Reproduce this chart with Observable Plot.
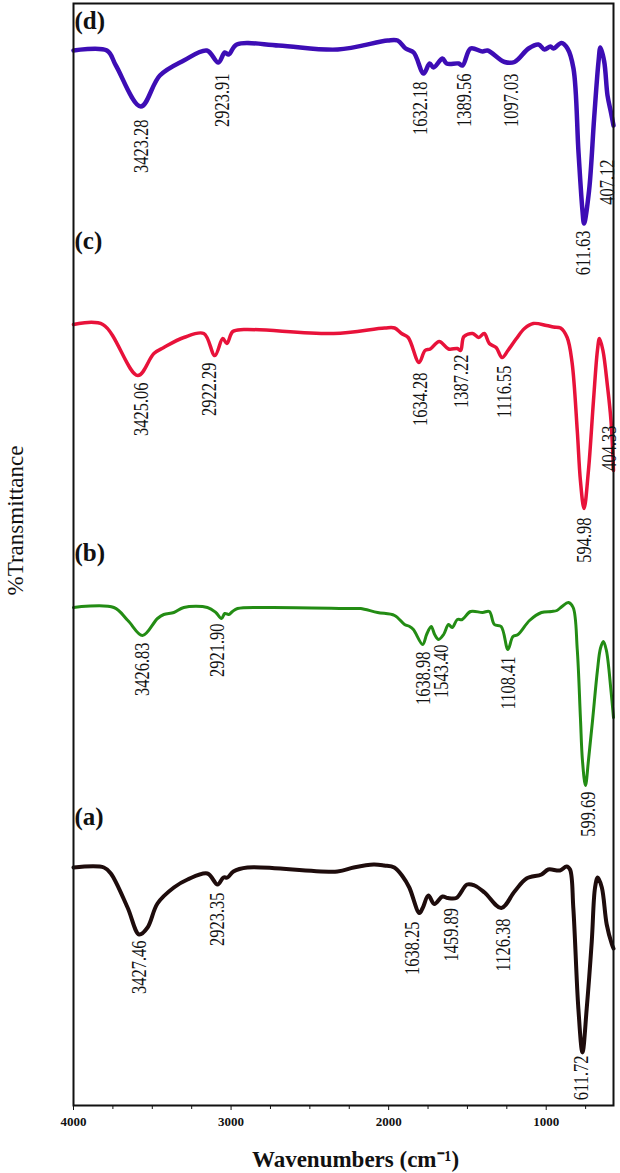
<!DOCTYPE html>
<html><head><meta charset="utf-8">
<script src="https://cdn.jsdelivr.net/npm/d3@7"></script>
<script src="https://cdn.jsdelivr.net/npm/@observablehq/plot@0.6"></script>
<style>body{margin:0;background:#fff} svg{display:block}</style>
</head><body><div id="chart"></div>
<script>
// [wavenumber (as drawn against the axis), %T (stacked, arbitrary offset)]
const curveD = [[4000,105.5],[3788,105.5],[3731,104.0],[3573,99.9],[3452,103.0],[3300,104.5],[3154,105.5],[3081,104.3],[3040,105.3],[3015,105.1],[2964,106.1],[2698,106.0],[2323,105.6],[2006,106.5],[1943,106.5],[1892,105.7],[1841,105.3],[1778,103.2],[1740,104.2],[1715,103.8],[1658,104.7],[1632,104.2],[1556,104.2],[1531,104.0],[1480,105.7],[1404,105.4],[1372,105.5],[1264,104.35],[1201,104.35],[1112,105.7],[1049,106.1],[1011,105.6],[973,105.9],[954,105.7],[903,106.25],[865,105.7],[827,103.7],[795,95.3],[770,89.5],[760,88.2],[728,91.5],[696,98.7],[668,104.4],[656,105.8],[632,104.4],[611,101.0],[589,99.3],[573,98.0]];
const curveC = [[4000,78.1],[3814,78.1],[3592,73.0],[3490,75.2],[3427,75.8],[3300,76.8],[3173,77.2],[3103,75.0],[3053,76.7],[3027,76.2],[2989,77.4],[2919,77.6],[2349,77.2],[2025,77.75],[1962,77.75],[1918,77.2],[1876,76.8],[1807,74.3],[1769,75.5],[1736,75.65],[1679,76.4],[1620,75.65],[1564,75.7],[1543,75.5],[1522,76.9],[1467,77.2],[1429,76.8],[1393,77.2],[1361,76.2],[1318,75.8],[1280,74.8],[1243,75.5],[1189,76.7],[1138,77.7],[1082,78.2],[998,78.0],[954,77.85],[909,77.75],[867,76.8],[836,74.3],[803,67.5],[783,62.5],[760,59.7],[732,63.5],[700,70.5],[675,75.5],[662,76.7],[640,75.5],[611,71.9],[589,68.5],[573,63.5]];
const curveB = [[4000,49.8],[3744,49.8],[3655,48.5],[3562,47.0],[3467,48.7],[3427,49.1],[3363,49.3],[3300,49.8],[3150,49.8],[3097,49.3],[3061,48.7],[3040,49.2],[3015,49.1],[2991,49.4],[2959,49.7],[2769,49.8],[2222,49.7],[2178,49.7],[2070,49.3],[1962,49.0],[1899,48.1],[1867,47.9],[1843,47.6],[1784,46.1],[1759,47.1],[1730,47.9],[1708,47.1],[1683,46.6],[1651,47.1],[1620,48.1],[1597,47.8],[1564,48.6],[1533,48.6],[1480,49.4],[1404,49.3],[1361,49.4],[1329,48.1],[1286,47.9],[1243,45.6],[1211,46.9],[1179,47.1],[1106,48.5],[1030,49.3],[966,49.4],[932,49.5],[900,49.9],[859,50.3],[829,49.8],[803,45.6],[783,38.8],[770,34.5],[751,32.0],[732,34.5],[706,38.5],[675,43.5],[656,45.7],[637,46.4],[618,45.5],[589,41.5],[573,38.8]];
const curveA = [[4000,23.8],[3807,23.8],[3763,23.2],[3657,19.8],[3583,17.1],[3530,17.8],[3467,20.2],[3363,21.8],[3276,22.6],[3150,23.2],[3086,22.1],[3048,22.8],[3023,22.8],[2985,23.4],[2896,23.8],[2325,23.4],[2222,23.8],[2095,24.1],[2028,24.0],[1964,23.8],[1911,22.9],[1869,21.8],[1805,19.25],[1784,19.75],[1748,21.0],[1710,20.15],[1658,20.9],[1625,20.75],[1571,20.75],[1502,22.1],[1455,22.0],[1391,21.3],[1285,19.75],[1201,21.4],[1125,22.7],[1030,23.1],[987,23.6],[913,23.5],[871,23.9],[849,23.6],[828,19.75],[796,9.7],[770,5.3],[743,9.7],[711,16.4],[690,21.8],[673,22.8],[647,21.8],[616,18.1],[583,16.1],[573,15.7]];

// peak labels: [text, wavenumber position, %T of label top]
const peaksD = [["3423.28",3573,98.6],["2923.91",3059,103.2],["1632.18",1800,102.4],["1389.56",1518,103.2],["1097.03",1220,103.2],["611.63",763,87.5],["407.12",611,94.6]];
const peaksC = [["3425.06",3573,72.3],["2922.29",3141,74.3],["1634.28",1800,73.3],["1387.22",1543,75.1],["1116.55",1264,74.0],["594.98",760,58.8],["404.33",599,68.0]];
const peaksB = [["3426.83",3562,46.3],["2921.90",3086,48.2],["1638.98",1784,45.4],["1543.40",1665,46.1],["1108.41",1239,44.9],["599.69",732,31.4]];
const peaksA = [["3427.46",3585,16.5],["2923.35",3086,21.3],["1638.25",1848,18.4],["1459.89",1604,19.75],["1126.38",1274,18.7],["611.72",776,5.0]];

const seriesNames = ["(a)","(b)","(c)","(d)"];
const seriesLabelY = [28.1, 54.5, 85.7, 107.7];
const seriesColors = ["#1e0c0c","#238c14","#e8123a","#3d0db5"];
const seriesWidths = [4, 3, 3.5, 4.5];

const majorTicks = [4000, 3000, 2000, 1000];
const minorTicks = [3750,3500,3250,2750,2500,2250,1750,1500,1250,750];

const serif = "'Liberation Serif', 'Times New Roman', serif";
const curves = [curveA, curveB, curveC, curveD];
const peaks = [peaksA, peaksB, peaksC, peaksD];

const marks = [
  Plot.axisX(minorTicks, {tickSize: 4, tickFormat: () => "", label: null, stroke: "#111"}),
  Plot.axisX(majorTicks, {tickSize: 5, tickPadding: 6, tickFormat: d => String(d), label: null,
    fontSize: 13, fontWeight: "bold", fontFamily: serif, fill: "#111", stroke: "#111"}),
];
curves.forEach((c, i) => {
  marks.push(Plot.line(c, {x: d => d[0], y: d => d[1], stroke: seriesColors[i],
    strokeWidth: seriesWidths[i], curve: "catmull-rom", strokeLinejoin: "round", strokeLinecap: "round"}));
});
peaks.forEach((p) => {
  marks.push(Plot.text(p, {x: d => d[1], y: d => d[2], text: d => d[0], rotate: -90,
    textAnchor: "end", lineAnchor: "middle", fontSize: 16.5, fontFamily: serif, fill: "#111"}));
});
marks.push(Plot.text(seriesNames, {x: () => 4000, y: (d, i) => seriesLabelY[i], text: d => d,
  textAnchor: "start", lineAnchor: "bottom", dx: 1, fontSize: 25, fontWeight: "bold", fontFamily: serif, fill: "#111"}));
marks.push(Plot.text(["%Transmittance"], {x: () => 4000, y: () => 58.5, text: d => d, rotate: -90,
  lineAnchor: "middle", textAnchor: "middle", dx: -58, fontSize: 23, fontFamily: serif, fill: "#111"}));
marks.push(Plot.text(["Wavenumbers (cm\u207B\u00B9)"], {frameAnchor: "bottom", text: d => d,
  lineAnchor: "middle", dx: 12, dy: 54, fontSize: 23, fontWeight: "bold", fontFamily: serif, fill: "#111"}));
marks.push(Plot.frame({stroke: "#111", strokeWidth: 2}));

const plot = Plot.plot({
  width: 620, height: 1173,
  marginLeft: 73, marginRight: 7, marginTop: 3, marginBottom: 68,
  style: {background: "#fff", fontFamily: serif},
  x: {domain: [4000, 573], axis: null},
  y: {domain: [0, 110.2], axis: null},
  marks
});
// peak labels in the reference use a narrow, tall face: stretch glyph height
plot.querySelectorAll("text").forEach(t => {
  if (/^\d+\.\d\d$/.test(t.textContent) && (t.getAttribute("transform") || "").includes("rotate")) {
    t.setAttribute("transform", t.getAttribute("transform") + " scale(1,1.3)");
  }
});
document.getElementById("chart").appendChild(plot);
</script>
</body></html>
